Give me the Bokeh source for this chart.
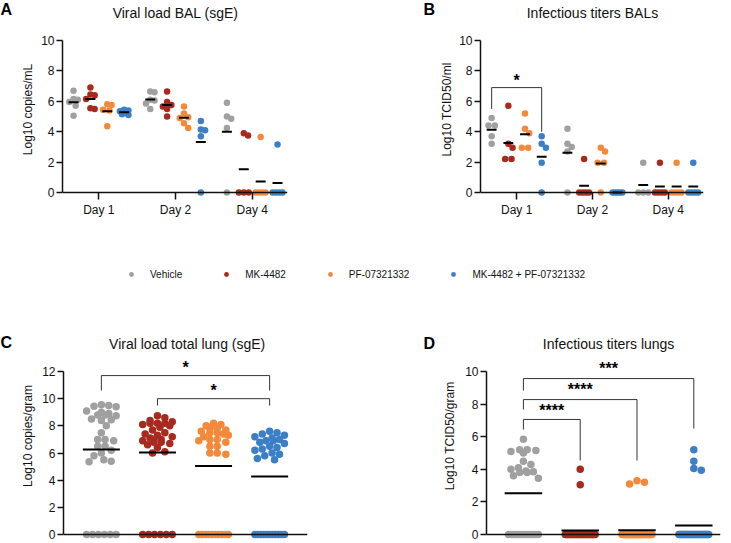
import numpy as np
from bokeh.plotting import figure
from bokeh.layouts import column, row
from bokeh.models import FixedTicker, Label, Legend, LegendItem, Range1d
from bokeh.core.properties import value
from bokeh.embed import file_html
from bokeh.resources import INLINE

FONT = "Liberation Sans"
INK = "#111111"

GROUPS = ["Vehicle", "MK-4482", "PF-07321332", "MK-4482 + PF-07321332"]
COLORS = ["#A0A0A0", "#A82A1E", "#F5893A", "#3B7FC6"]
DAYS = ["Day 1", "Day 2", "Day 4"]

# ---- Panel A: Viral load BAL (sgE), Log10 copies/mL  (per group: Day 1, Day 2, Day 4)
bal_sge_vehicle = [[6.7, 6.15, 6.1, 5.95, 5.7, 5.05], [6.65, 6.6, 6.1, 6.05, 5.85, 5.5], [5.9, 5.0, 4.85, 4.25, 0]]
bal_sge_mk = [[6.9, 6.45, 6.4, 6.15, 5.55, 5.5], [6.65, 5.95, 5.75, 5.65, 5.5, 5.0], [3.9, 3.75, 0, 0, 0]]
bal_sge_pf = [[5.8, 5.75, 5.45, 5.4, 4.35], [5.65, 5.2, 4.95, 4.9, 4.55, 4.25], [3.65, 0, 0, 0, 0]]
bal_sge_combo = [[5.45, 5.4, 5.35, 5.25, 5.15, 5.1], [4.7, 4.15, 4.1, 3.7, 0], [3.15, 0, 0, 0, 0]]

# ---- Panel B: Infectious titers BALs, Log10 TCID50/ml
bal_tcid_vehicle = [[4.9, 4.4, 4.4, 3.7, 3.2], [4.2, 3.2, 3.0, 2.7, 0], [1.95, 0, 0, 0]]
bal_tcid_mk = [[5.7, 3.2, 2.95, 2.2, 2.2], [2.2, 0, 0, 0, 0], [1.95, 0, 0, 0, 0]]
bal_tcid_pf = [[5.2, 4.2, 3.9, 2.95, 2.95], [2.95, 2.7, 1.95, 1.95, 0], [1.95, 0, 0, 0, 0]]
bal_tcid_combo = [[3.7, 3.2, 2.95, 1.95, 0], [0, 0, 0, 0, 0], [1.95, 0, 0, 0, 0]]
# bracket: (day index, left group, right group, top, left foot, right foot, label)
bal_tcid_brackets = [(0, 0, 3, 6.9, 5.5, 4.0, "*")]
bal_tcid_star_y = [7.4]

# ---- Panel C: Viral load total lung (sgE), Log10 copies/gram
lung_sge_vehicle = [9.55, 9.5, 9.45, 9.4, 9.1, 9.0, 8.9, 8.8, 8.8, 8.75, 8.5, 8.45, 8.4, 8.0, 7.5, 7.0,
                    7.0, 6.9, 6.5, 6.5, 6.2, 6.0, 5.8, 5.5, 5.4, 5.35, 0, 0, 0, 0, 0, 0]
lung_sge_mk = [8.75, 8.6, 8.4, 8.3, 8.2, 8.2, 8.2, 8.1, 8.0, 7.9, 7.7, 7.5, 7.4, 7.3, 7.2, 7.1, 7.0, 7.0,
               6.9, 6.8, 6.8, 6.7, 6.6, 6.4, 6.1, 6.0, 0, 0, 0, 0, 0, 0]
lung_sge_pf = [8.2, 8.1, 8.0, 7.9, 7.9, 7.8, 7.8, 7.7, 7.6, 7.5, 7.5, 7.4, 7.3, 7.2, 7.0, 7.0, 6.9, 6.8,
               6.5, 6.5, 6.0, 6.0, 5.9, 0, 0, 0, 0, 0, 0, 0, 0, 0, 0]
lung_sge_combo = [7.6, 7.5, 7.4, 7.3, 7.2, 7.1, 7.0, 6.9, 6.9, 6.8, 6.7, 6.5, 6.4, 6.3, 6.2, 6.0, 5.9, 5.8,
                  5.6, 5.5, 0, 0, 0, 0, 0, 0, 0, 0, 0, 0, 0]
# (left group, right group, top, left foot, right foot, label)
lung_sge_brackets = [(0, 3, 11.7, 10.6, 10.6, "*"), (1, 3, 10.0, 9.5, 9.5, "*")]
lung_sge_star_y = [12.28, 10.6]

# ---- Panel D: Infectious titers lungs, Log10 TCID50/gram
lung_tcid_vehicle = [5.85, 5.2, 5.2, 5.15, 5.1, 5.0, 4.5, 4.3, 4.1, 4.0, 3.9, 3.85, 3.8, 3.8, 3.6, 3.45,
                     0, 0, 0, 0, 0, 0, 0, 0, 0, 0, 0, 0]
lung_tcid_mk = [4.0, 3.05, 0, 0, 0, 0, 0, 0, 0, 0, 0, 0, 0, 0, 0, 0, 0, 0, 0, 0, 0, 0, 0, 0, 0, 0, 0, 0]
lung_tcid_pf = [3.3, 3.2, 3.1, 0, 0, 0, 0, 0, 0, 0, 0, 0, 0, 0, 0, 0, 0, 0, 0, 0, 0, 0, 0, 0, 0, 0, 0, 0,
                0, 0, 0, 0, 0, 0, 0, 0, 0]
lung_tcid_combo = [5.2, 4.5, 4.05, 3.95, 0, 0, 0, 0, 0, 0, 0, 0, 0, 0, 0, 0, 0, 0, 0, 0, 0, 0, 0, 0, 0, 0,
                   0, 0, 0, 0, 0, 0]
lung_tcid_brackets = [(0, 3, 9.57, 8.83, 6.5, "***"), (0, 2, 8.28, 7.67, 4.54, "****"),
                      (0, 1, 7.06, 6.44, 4.54, "****")]
lung_tcid_star_y = [10.2, 8.9, 7.6]

GROUP_OFFSETS = [-0.33, -0.11, 0.11, 0.33]


def swarm_offsets(vals, pxy, d, maxw):
    """Beeswarm-like horizontal offsets in pixels."""
    vals = np.asarray(vals, float)
    n = len(vals)
    off = np.zeros(n)
    placed = []
    step = d / 3.0
    cands = [0.0]
    k = 1
    while k * step <= maxw + 1e-9:
        cands += [k * step, -k * step]
        k += 1
    order = list(np.argsort(-vals, kind="stable"))
    done = np.zeros(n, bool)
    for i in order:
        if done[i]:
            continue
        tie = [j for j in order if (not done[j]) and vals[j] == vals[i]]
        if len(tie) > 1:
            sp = min(d, 2 * maxw / (len(tie) - 1))
            pos = (np.arange(len(tie)) - (len(tie) - 1) / 2.0) * sp
            for j, p in zip(tie, pos):
                off[j] = p
                placed.append((p, vals[j] * pxy))
                done[j] = True
            continue
        y = vals[i] * pxy
        best, bestd = 0.0, -1.0
        for c in cands:
            md = min([np.hypot(c - px, y - py) for px, py in placed], default=1e9)
            if md >= d * 0.95:
                best = c
                break
            if md > bestd:
                bestd, best = md, c
        off[i] = best
        placed.append((best, y))
        done[i] = True
    return off


def bare_figure(width, height):
    p = figure(width=width, height=height, x_range=Range1d(0, width), y_range=Range1d(0, height),
               output_backend="svg", toolbar_location=None, min_border=0,
               x_axis_location=None, y_axis_location=None)
    p.outline_line_color = None
    p.xgrid.visible = False
    p.ygrid.visible = False
    return p


def letter_figure(width, height, letter, lx, ltop):
    p = bare_figure(width, height)
    p.text(x=[lx], y=[height - ltop], text=[letter], text_align="left", text_baseline="top",
           text_font=value(FONT), text_font_size="16px", text_font_style="bold", text_color="#000000")
    return p


def make_panel(width, height, bl, br, bb, xr, yr, ytop, ylabel, xticks, xlabels, label_standoff):
    p = figure(width=width, height=height, x_range=Range1d(*xr), y_range=Range1d(*yr),
               output_backend="svg", toolbar_location=None,
               min_border_left=bl, min_border_right=br, min_border_top=0, min_border_bottom=bb)
    p.outline_line_color = None
    p.xgrid.visible = False
    p.ygrid.visible = False
    ya = p.yaxis[0]
    ya.ticker = FixedTicker(ticks=list(range(0, ytop + 1, 2)))
    ya.bounds = (0, ytop)
    ya.axis_label = ylabel
    ya.axis_label_text_font = FONT
    ya.axis_label_text_font_size = "12px"
    ya.axis_label_text_font_style = "normal"
    ya.axis_label_text_color = INK
    ya.axis_label_standoff = label_standoff
    ya.major_label_text_font = FONT
    ya.major_label_text_font_size = "12px"
    ya.major_label_text_color = INK
    ya.major_label_standoff = 2
    ya.major_tick_out = 6
    ya.major_tick_in = 0
    ya.major_tick_line_width = 1.5
    ya.major_tick_line_color = INK
    ya.minor_tick_out = 0
    ya.minor_tick_in = 0
    ya.axis_line_width = 1.5
    ya.axis_line_color = INK
    xa = p.xaxis[0]
    xa.fixed_location = 0
    xa.ticker = FixedTicker(ticks=xticks)
    if xlabels:
        xa.major_label_overrides = {t: l for t, l in zip(xticks, xlabels)}
        xa.major_label_standoff = 3
        xa.major_tick_out = 7
    else:
        xa.major_label_standoff = 0
        xa.major_tick_out = 0
    xa.major_label_text_font = FONT
    xa.major_label_text_font_size = "12px"
    xa.major_label_text_color = INK
    xa.major_tick_in = 0
    xa.major_tick_line_width = 1.5
    xa.major_tick_line_color = INK
    xa.minor_tick_out = 0
    xa.minor_tick_in = 0
    xa.axis_line_width = 1.5
    xa.axis_line_color = INK
    return p


def add_title(p, title, tx, ty):
    p.add_layout(Label(x=tx, y=ty, text=title, text_align="center", text_baseline="middle",
                       text_font=FONT, text_font_size="14px", text_color=INK))


def draw_day_panel(p, series, pxx, pxy, d, maxw, half):
    for gi, (ser, col) in enumerate(zip(series, COLORS)):
        for di, vals in enumerate(ser):
            xc = di + 1 + GROUP_OFFSETS[gi]
            off = swarm_offsets(vals, pxy, d, maxw)
            p.scatter(x=list(xc + off / pxx), y=list(vals), size=d, fill_color=col, line_color=None)
    for gi, ser in enumerate(series):
        for di, vals in enumerate(ser):
            xc = di + 1 + GROUP_OFFSETS[gi]
            m = float(np.mean(vals))
            p.segment(x0=[xc - half], y0=[m], x1=[xc + half], y1=[m], line_color="#000000", line_width=2)


def draw_group_panel(p, series, pxx, pxy, d, maxw, half):
    for gi, (vals, col) in enumerate(zip(series, COLORS)):
        xc = gi + 1
        off = swarm_offsets(vals, pxy, d, maxw)
        p.scatter(x=list(xc + off / pxx), y=list(vals), size=d, fill_color=col, line_color=None)
    for gi, vals in enumerate(series):
        xc = gi + 1
        m = float(np.mean(vals))
        p.segment(x0=[xc - half], y0=[m], x1=[xc + half], y1=[m], line_color="#000000", line_width=2)


def draw_brackets(p, xs_left, xs_right, brs, star_y):
    xs, ys, tx, tt = [], [], [], []
    for (xl, xr_, br) in zip(xs_left, xs_right, brs):
        top, fl, fr, lab = br
        xs.append([xl, xl, xr_, xr_])
        ys.append([fl, top, top, fr])
        tx.append((xl + xr_) / 2.0)
        tt.append(lab)
    p.multi_line(xs=xs, ys=ys, line_color="#333333", line_width=1)
    p.text(x=tx, y=list(star_y), text=tt, text_align="center", text_baseline="middle",
           text_font=value(FONT), text_font_size="16px", text_font_style="bold", text_color="#000000")


TOP_H = 246
LEG_H = 84
BOT_H = 213

# ---------------- Panel A
letA = letter_figure(18, TOP_H, "A", 0, 0)
pA = make_panel(349, TOP_H, 40, 80, 28, (0.526, 3.46), (-1.71, 12.63), 10, "Log10 copies/mL",
                [1, 2, 3], DAYS, 3)
draw_day_panel(pA, [bal_sge_vehicle, bal_sge_mk, bal_sge_pf, bal_sge_combo], 78.0, 15.2, 6.5, 5.0, 0.065)
add_title(pA, "Viral load BAL (sgE)", 2.0, 11.78)

# ---------------- Panel B
letB = letter_figure(70, TOP_H, "B", 56, 0)
pB = make_panel(293, TOP_H, 38, 27, 28, (0.523, 3.465), (-1.71, 12.63), 10, "Log10 TCID50/ml",
                [1, 2, 3], DAYS, 2)
draw_day_panel(pB, [bal_tcid_vehicle, bal_tcid_mk, bal_tcid_pf, bal_tcid_combo], 77.5, 15.2, 6.5, 5.0, 0.065)
draw_brackets(pB,
              [b[0] + 1 + GROUP_OFFSETS[b[1]] for b in bal_tcid_brackets],
              [b[0] + 1 + GROUP_OFFSETS[b[2]] for b in bal_tcid_brackets],
              [b[3:] for b in bal_tcid_brackets], bal_tcid_star_y)
add_title(pB, "Infectious titers BALs", 2.0, 11.78)

# ---------------- Legend strip
pL = bare_figure(730, LEG_H)
items = []
for name, col in zip(GROUPS, COLORS):
    r = pL.scatter(x=[0], y=[0], size=5, fill_color=col, line_color=None, visible=False)
    items.append(LegendItem(label=name, renderers=[r]))
leg = Legend(items=items, orientation="horizontal", location=(121, 50),
             glyph_width=20, glyph_height=12, label_height=12, label_standoff=9, spacing=34,
             padding=0, margin=0, border_line_color=None, background_fill_alpha=0,
             inactive_fill_alpha=0,
             label_text_font=FONT, label_text_font_size="10px", label_text_color=INK)
pL.add_layout(leg)

# ---------------- Panel C
letC = letter_figure(18, BOT_H, "C", 0, 4)
pC = make_panel(352, BOT_H, 41, 63, 2, (0.325, 4.675), (-0.515, 15.02), 12, "Log10 copies/gram",
                [], None, 4)
draw_group_panel(pC, [lung_sge_vehicle, lung_sge_mk, lung_sge_pf, lung_sge_combo], 57.0, 13.58, 7.5, 15.0, 0.33)
draw_brackets(pC, [b[0] + 1 for b in lung_sge_brackets], [b[1] + 1 for b in lung_sge_brackets],
              [b[2:] for b in lung_sge_brackets], lung_sge_star_y)
add_title(pC, "Viral load total lung (sgE)", 2.53, 13.99)

# ---------------- Panel D
letD = letter_figure(70, BOT_H, "D", 53, 5)
pD = make_panel(290, BOT_H, 45, 10, 2, (0.35, 4.47), (-0.43, 12.52), 10, "Log10 TCID50/gram",
                [], None, 5)
draw_group_panel(pD, [lung_tcid_vehicle, lung_tcid_mk, lung_tcid_pf, lung_tcid_combo], 57.0, 16.3, 7.5, 15.0, 0.33)
draw_brackets(pD, [b[0] + 1 for b in lung_tcid_brackets], [b[1] + 1 for b in lung_tcid_brackets],
              [b[2:] for b in lung_tcid_brackets], lung_tcid_star_y)
add_title(pD, "Infectious titers lungs", 2.5, 11.72)

layout = column(row(letA, pA, letB, pB), pL, row(letC, pC, letD, pD))
open("out.html", "w").write(file_html(layout, INLINE))
